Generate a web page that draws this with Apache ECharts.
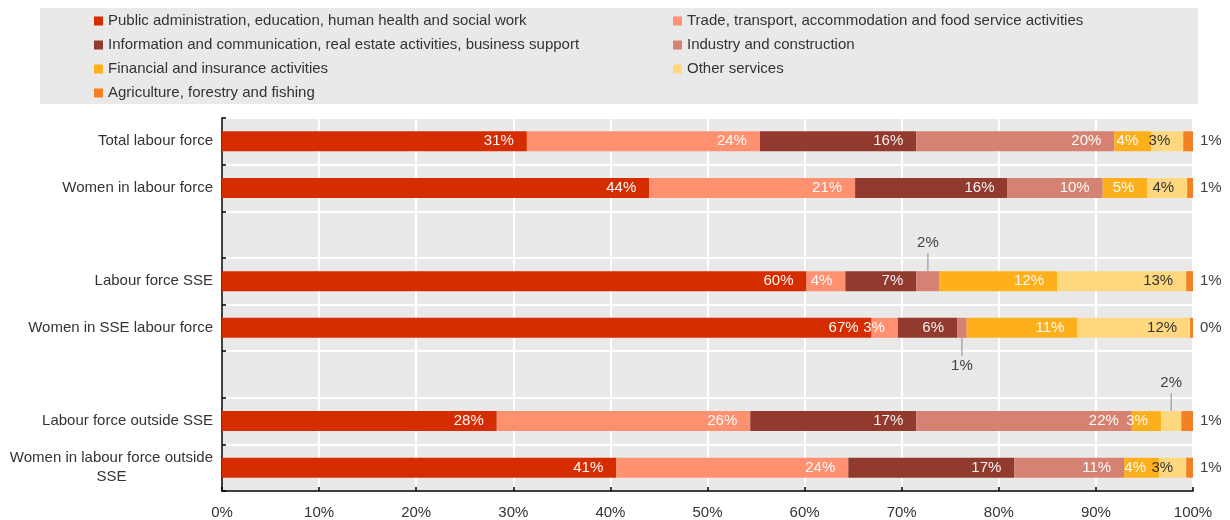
<!DOCTYPE html>
<html>
<head>
<meta charset="utf-8">
<title>Labour force by sector</title>
<script src="https://cdn.jsdelivr.net/npm/echarts@6/dist/echarts.min.js"></script>
<style>
  html, body { margin: 0; padding: 0; background: #ffffff; }
  #chart { width: 1230px; height: 520px; }
</style>
</head>
<body>
<div id="chart"></div>
<script>
// Rows, top to bottom; the blank entries leave gaps between the three groups.
const categories = [
  'Total labour force',
  'Women in labour force',
  ' ',
  'Labour force SSE',
  'Women in SSE labour force',
  '  ',
  'Labour force outside SSE',
  'Women in labour force outside SSE'
];

const sectorNames = [
  'Public administration, education, human health and social work',
  'Trade, transport, accommodation and food service activities',
  'Information and communication, real estate activities, business support',
  'Industry and construction',
  'Financial and insurance activities',
  'Other services',
  'Agriculture, forestry and fishing'
];

// Share of each sector in every row (%)
const publicAdmin   = [31.4, 44.0, null, 60.2, 66.9, null, 28.3, 40.6];
const trade         = [24.0, 21.2, null,  4.0,  2.7, null, 26.1, 23.9];
const infoComm      = [16.1, 15.7, null,  7.3,  6.1, null, 17.1, 17.1];
const industry      = [20.4,  9.8, null,  2.4,  1.0, null, 22.2, 11.3];
const finance       = [ 3.8,  4.6, null, 12.1, 11.4, null,  3.0,  3.6];
const otherServices = [ 3.3,  4.1, null, 13.3, 11.6, null,  2.1,  2.8];
const agriculture   = [ 1.0,  0.6, null,  0.7,  0.3, null,  1.2,  0.7];

const xTicks = [0, 10, 20, 30, 40, 50, 60, 70, 80, 90, 100];

const sectorValues = [publicAdmin, trade, infoComm, industry, finance, otherServices, agriculture];
const colors = ['#D62D00', '#FF9070', '#933A2E', '#D68272', '#FDB01B', '#FED77F', '#F38023'];
const labelColors = ['#fafafa', '#fafafa', '#f2f2f2', '#fafafa', '#fafafa', '#333333', '#404040'];

// Thin segments whose values sit outside the bar with a short leader line
const callouts = { '3-3': 'top', '3-4': 'bottom', '5-6': 'top' };

const FONT = '"Liberation Sans", Arial, sans-serif';
const FS = 15;
const pct = v => Math.round(v) + '%';

function calloutLabel(dir) {
  return {
    show: true,
    position: dir,
    distance: 0,
    formatter: p => dir === 'top' ? '{v|' + pct(p.value) + '}\n{l| }' : '{l| }\n{v|' + pct(p.value) + '}',
    rich: {
      v: { fontFamily: FONT, fontSize: FS, color: '#404040', align: 'center', lineHeight: 20 },
      l: { width: 1, height: 18, lineHeight: 18, backgroundColor: '#8a8a8a', align: 'center' }
    }
  };
}

const series = sectorNames.map((name, s) => ({
  name: name,
  type: 'bar',
  stack: 'share',
  barWidth: 20,
  itemStyle: { color: colors[s] },
  emphasis: { disabled: true },
  label: {
    show: true,
    position: s === 6 ? 'right' : 'insideRight',
    distance: s === 6 ? 7 : 13,
    color: labelColors[s],
    fontFamily: FONT,
    fontSize: FS,
    formatter: p => (p.value == null ? '' : pct(p.value))
  },
  data: sectorValues[s].map((v, i) => {
    const dir = callouts[s + '-' + i];
    if (v == null) return '-';
    return dir ? { value: v, label: calloutLabel(dir) } : v;
  })
}));

const legendText = { fontFamily: FONT, fontSize: FS, color: '#333333', lineHeight: 16 };
const legendBase = {
  orient: 'vertical',
  top: 8,
  icon: 'rect',
  itemWidth: 9,
  itemHeight: 9,
  itemGap: 8,
  selectedMode: false,
  textStyle: legendText
};

const chart = echarts.init(document.getElementById('chart'), null, { renderer: 'canvas' });
chart.setOption({
  animation: false,
  backgroundColor: '#ffffff',
  graphic: [{
    type: 'rect',
    left: 40,
    top: 8,
    z: 0,
    shape: { width: 1158, height: 96 },
    style: { fill: '#E9E9E9' }
  }],
  legend: [
    Object.assign({}, legendBase, { left: 89, data: [sectorNames[0], sectorNames[2], sectorNames[4], sectorNames[6]] }),
    Object.assign({}, legendBase, { left: 668, data: [sectorNames[1], sectorNames[3], sectorNames[5]] })
  ],
  grid: {
    left: 222,
    right: 37,
    top: 118,
    bottom: 29,
    show: true,
    backgroundColor: '#E9E9E9',
    borderWidth: 0,
    containLabel: false,
    outerBoundsMode: 'none'
  },
  xAxis: {
    type: 'value',
    min: xTicks[0],
    max: xTicks[xTicks.length - 1],
    interval: 10,
    axisLine: { show: true, lineStyle: { color: '#000000', width: 1.5 } },
    axisTick: { show: true, inside: true, length: 4, lineStyle: { color: '#000000', width: 1.5 } },
    splitLine: { show: true, lineStyle: { color: '#ffffff', width: 2 } },
    axisLabel: {
      margin: 14,
      color: '#333333',
      fontFamily: FONT,
      fontSize: FS,
      formatter: v => v + '%'
    }
  },
  yAxis: {
    type: 'category',
    inverse: true,
    data: categories,
    axisLine: { show: true, lineStyle: { color: '#000000', width: 1.5 } },
    axisTick: { show: true, inside: true, length: 4, lineStyle: { color: '#000000', width: 1.5 } },
    splitLine: { show: true, lineStyle: { color: '#ffffff', width: 2 } },
    axisLabel: {
      margin: 9,
      color: '#333333',
      fontFamily: FONT,
      fontSize: FS,
      formatter: v => v === 'Women in labour force outside SSE'
        ? '{c|Women in labour force outside}\n{c|SSE}'
        : v,
      rich: {
        c: { fontFamily: FONT, fontSize: FS, color: '#333333', align: 'center', lineHeight: 19 }
      }
    }
  },
  series: series
});
</script>
</body>
</html>
